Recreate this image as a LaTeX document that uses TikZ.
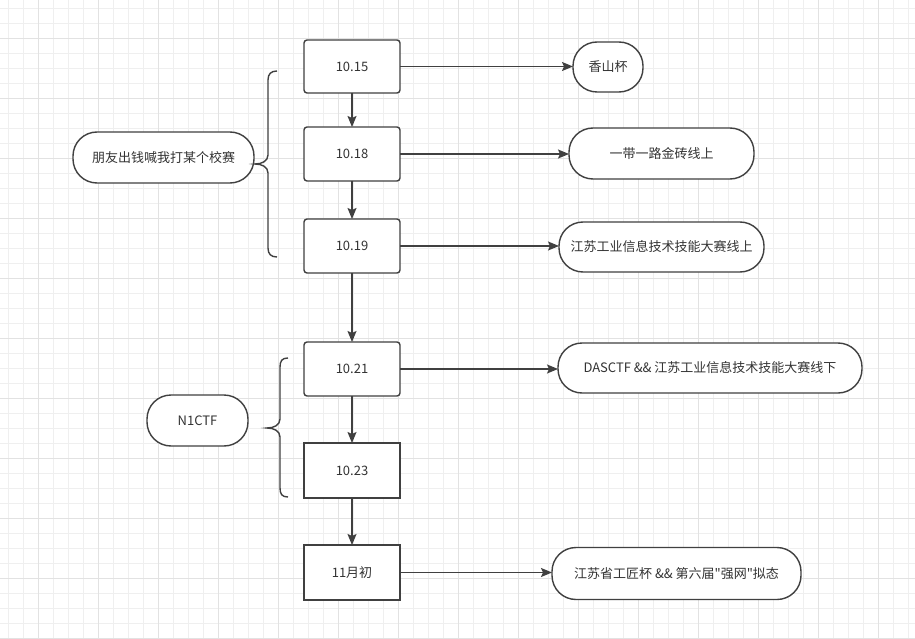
\documentclass[tikz,border=0pt]{standalone}
\usepackage{fontspec}
\newfontfamily\cjkf{Noto Sans CJK SC}
\usetikzlibrary{arrows.meta}
\definecolor{strk}{HTML}{404040}
\definecolor{txt}{HTML}{333333}
\definecolor{gridminor}{HTML}{EFEFEF}
\definecolor{gridmajor}{HTML}{E2E2E2}
\tikzset{
  base/.style={draw=strk, line width=1.4pt, fill=white, text=txt, font=\cjkf\fontsize{13}{15}\selectfont, inner sep=0pt, outer sep=0pt, align=center},
  procr/.style={base, rounded corners=3pt, minimum width=96pt},
  procs/.style={base, minimum width=96pt},
  term/.style={base, rounded corners=24pt},
  conn/.style={draw=strk, line width=1.4pt, -{Stealth[length=11pt,width=9pt,inset=2pt]}},
  bracestyle/.style={draw=strk, line width=1.4pt},
}
\begin{document}
\begin{tikzpicture}[x=1pt,y=-1pt]
\useasboundingbox (0,0) rectangle (915,639);
\fill[white] (0,0) rectangle (915,639);
% grid
\foreach \i in {0,...,60} {
  \draw[gridminor, line width=0.8pt] (8.33+15*\i,0) -- (8.33+15*\i,639);
}
\foreach \i in {0,...,42} {
  \draw[gridminor, line width=0.8pt] (0,8.33+15*\i) -- (915,8.33+15*\i);
}
\foreach \i in {0,...,14} {
  \draw[gridmajor, line width=0.8pt] (38.33+60*\i,0) -- (38.33+60*\i,639);
}
\foreach \i in {0,...,10} {
  \draw[gridmajor, line width=0.8pt] (0,38.33+60*\i) -- (915,38.33+60*\i);
}
% date boxes
\node[procr, minimum height=53pt] (A) at (352,66.5) {10.15};
\node[procr, minimum height=54pt] (B) at (352,154) {10.18};
\node[procr, minimum height=54pt] (C) at (352,246) {10.19};
\node[procr, minimum height=54pt] (D) at (352,369) {10.21};
\node[procs, minimum height=55pt] (E) at (352,470.5) {10.23};
\node[procs, minimum height=55pt] (F) at (352,572.5) {11月初};
% terminal shapes
\node[term, minimum width=70pt, minimum height=50pt] (T1) at (608,67) {香山杯};
\node[term, minimum width=185pt, minimum height=51pt] (T2) at (661.5,153.5) {一带一路金砖线上};
\node[term, minimum width=205pt, minimum height=50pt] (T3) at (661.5,247) {江苏工业信息技术技能大赛线上};
\node[term, minimum width=304pt, minimum height=50pt] (T4) at (710,368) {DASCTF \&\& 江苏工业信息技术技能大赛线下};
\node[term, minimum width=249pt, minimum height=52pt] (T5) at (676.5,573.5) {江苏省工匠杯 \&\& 第六届"强网"拟态};
\node[term, minimum width=181pt, minimum height=51pt] (L1) at (163.5,157.5) {朋友出钱喊我打某个校赛};
\node[term, minimum width=101pt, minimum height=51pt] (L2) at (197.5,420.5) {N1CTF};
% vertical connectors
\draw[conn] (A.south) -- (B.north);
\draw[conn] (B.south) -- (C.north);
\draw[conn] (C.south) -- (D.north);
\draw[conn] (D.south) -- (E.north);
\draw[conn] (E.south) -- (F.north);
% horizontal connectors
\draw[conn] (A.east) -- (A.east -| T1.west);
\draw[conn] (B.east) -- (B.east -| T2.west);
\draw[conn] (C.east) -- (C.east -| T3.west);
\draw[conn] (D.east) -- (D.east -| T4.west);
\draw[conn] (F.east) -- (F.east -| T5.west);
% braces
\draw[bracestyle] (277,71) .. controls (271,71) and (268,74) .. (268,80) -- (268,155)
  .. controls (268,161) and (262,164) .. (255,164)
  .. controls (262,164) and (268,167) .. (268,173) -- (268,248)
  .. controls (268,254) and (271,257) .. (277,257);
\draw[bracestyle] (288,358) .. controls (282,358) and (280,361) .. (280,367) -- (280,419)
  .. controls (280,425) and (274,428) .. (267,428)
  .. controls (274,428) and (280,431) .. (280,437) -- (280,488)
  .. controls (280,494) and (282,497) .. (288,497);
\end{tikzpicture}
\end{document}
